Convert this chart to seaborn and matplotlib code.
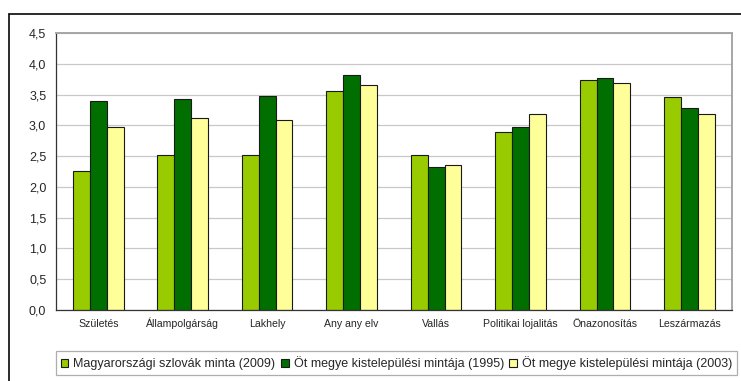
import matplotlib
matplotlib.use("Agg")
import matplotlib.pyplot as plt
from matplotlib.lines import Line2D
from matplotlib.patches import Patch
import numpy as np
import pandas as pd
import seaborn as sns

# Identity dimensions (x-axis categories)
categories = ["Születés", "Állampolgárság", "Lakhely", "Anyanyelv", "Vallás",
              "Politikai lojalitás", "Önazonosítás", "Leszármazás"]
category_labels = ["Születés", "Állampolgárság", "Lakhely", "Any any elv", "Vallás",
                   "Politikai lojalitás", "Önazonosítás", "Leszármazás"]

series_names = ["Magyarországi szlovák minta (2009)",
                "Öt megye kistelepülési mintája (1995)",
                "Öt megye kistelepülési mintája (2003)"]

minta_2009 = [2.26, 2.51, 2.51, 3.56, 2.51, 2.89, 3.73, 3.46]
minta_1995 = [3.40, 3.43, 3.48, 3.81, 2.33, 2.98, 3.77, 3.28]
minta_2003 = [2.97, 3.12, 3.08, 3.65, 2.36, 3.19, 3.69, 3.18]

y_ticks = [0.0, 0.5, 1.0, 1.5, 2.0, 2.5, 3.0, 3.5, 4.0, 4.5]

colors = ["#99cc00", "#006f00", "#ffff99"]

df = pd.DataFrame({
    "kategoria": categories * 3,
    "ertek": minta_2009 + minta_1995 + minta_2003,
    "minta": [series_names[0]] * 8 + [series_names[1]] * 8 + [series_names[2]] * 8,
})

sns.set_style("white")
plt.rcParams["font.family"] = ["Liberation Sans", "DejaVu Sans"]

fig = plt.figure(figsize=(7.41, 3.81), dpi=100)
ax = fig.add_axes([56 / 741, 1 - 310 / 381, (731.7 - 56) / 741, (310 - 33) / 381])

sns.barplot(data=df, x="kategoria", y="ertek", hue="minta", order=categories,
            hue_order=series_names, palette=colors, saturation=1, width=0.6,
            edgecolor="#1a1a1a", linewidth=0.8, ax=ax, errorbar=None)
ax.legend_.remove()

# Axes ranges, ticks and grid
ax.set_xlim(-0.5, len(categories) - 0.5)
ax.set_ylim(0, 4.5)
ax.set_yticks(y_ticks)
ax.set_yticklabels([f"{v:.1f}".replace(".", ",") for v in y_ticks], fontsize=9)
ax.set_xticks(range(len(categories)))
ax.set_xticklabels(category_labels, fontsize=7.6, va="baseline")
ax.set_xticks(np.arange(-0.5, len(categories), 1.0), minor=True)
ax.tick_params(axis="x", which="major", length=0, pad=12.5)
ax.tick_params(axis="x", which="minor", length=4, width=0.8, color="#333333", direction="out")
ax.tick_params(axis="y", length=4, width=0.8, color="#333333", direction="out", pad=3)
ax.set_xlabel("")
ax.set_ylabel("")
ax.yaxis.grid(True, color="#c8c8c8", linewidth=0.9)
ax.set_axisbelow(True)

for side in ["left", "bottom"]:
    ax.spines[side].set_color("#333333")
    ax.spines[side].set_linewidth(0.9)
for side in ["top", "right"]:
    ax.spines[side].set_visible(True)
    ax.spines[side].set_color("#a6a6a6")
    ax.spines[side].set_linewidth(1.4)

# Legend in a rectangular box below the plot
handles = [Patch(facecolor=c, edgecolor="#1a1a1a", linewidth=0.8) for c in colors]
leg = fig.legend(handles, series_names, loc="center", ncol=3,
                 bbox_to_anchor=(396.5 / 741, 1 - 363.3 / 381),
                 fontsize=9, frameon=True, fancybox=False, handlelength=0.6,
                 handleheight=0.6, handletextpad=0.4, columnspacing=0.45,
                 borderpad=0.4, borderaxespad=0)
leg.get_frame().set_edgecolor("#9a9a9a")
leg.get_frame().set_linewidth(0.9)

# Outer chart frame (left and top edges)
fx = 8.5 / 741
fy = 1 - 13.5 / 381
fig.add_artist(Line2D([fx, fx], [0, fy], transform=fig.transFigure, color="#1a1a1a", linewidth=1.3))
fig.add_artist(Line2D([fx, 1], [fy, fy], transform=fig.transFigure, color="#1a1a1a", linewidth=1.3))

fig.savefig("out.png", dpi=100)
